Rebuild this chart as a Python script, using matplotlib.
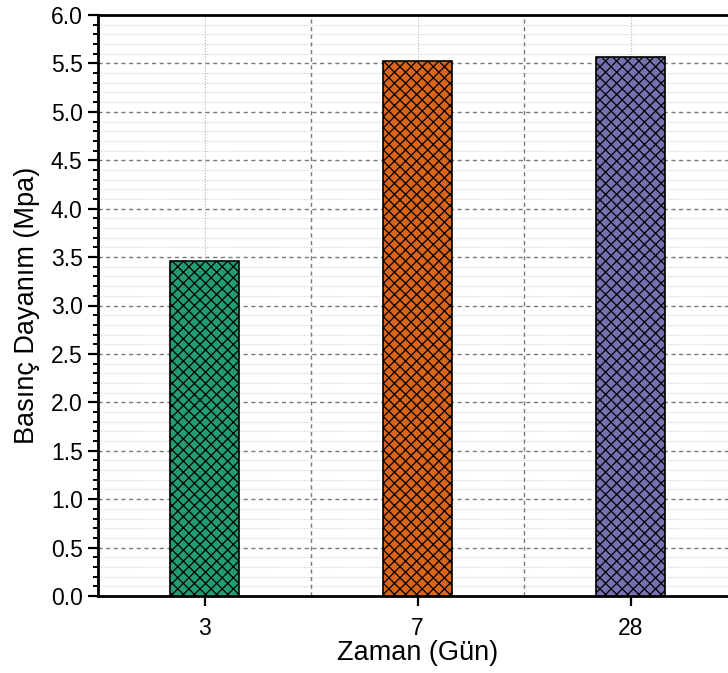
import matplotlib.pyplot as plt
import numpy as np
from matplotlib.ticker import MultipleLocator

plt.rcParams['font.family'] = ['Liberation Sans', 'DejaVu Sans']
plt.rcParams['hatch.linewidth'] = 0.9
plt.rcParams['hatch.color'] = 'black'

days = ["3", "7", "28"]
strength = [3.46, 5.52, 5.57]
colors = ["#239c76", "#d9651b", "#7672b2"]

fig = plt.figure(figsize=(7.28, 6.73), dpi=100)
# axes runs past the right edge, like the cropped original
ax = fig.add_axes([98 / 728, 77 / 673, 639 / 728, 581 / 673])

x = np.arange(len(days))
ax.bar(x, strength, width=0.32, color=colors, edgecolor='black',
       linewidth=1.2, hatch='xxx', zorder=3)

ax.set_xlim(-0.5, len(days) - 0.5)
ax.set_ylim(0, 6)
ax.set_xticks(x)
ax.set_xticklabels(days)
ax.yaxis.set_major_locator(MultipleLocator(0.5))
ax.yaxis.set_minor_locator(MultipleLocator(0.1))
ax.yaxis.set_major_formatter(plt.FormatStrFormatter('%.1f'))

# grid
for v in np.arange(0.1, 6.0, 0.1):
    if abs(v * 2 - round(v * 2)) > 1e-6:
        ax.axhline(v, color='#cfcfcf', lw=0.8, ls=(0, (1, 1.5)), zorder=0)
for v in np.arange(0.5, 6.0, 0.5):
    ax.axhline(v, color='#7a7a7a', lw=1.0, ls=(0, (3, 2.5)), zorder=1)
for v in [0.5, 1.5]:
    ax.axvline(v, color='#7a7a7a', lw=1.0, ls=(0, (3, 2.5)), zorder=1)
for v in x:
    ax.axvline(v, color='#b0b0b0', lw=0.8, ls=(0, (1, 1.5)), zorder=0)

for side in ['left', 'bottom', 'top', 'right']:
    ax.spines[side].set_linewidth(2.0)

ax.tick_params(axis='both', which='major', direction='out', length=7,
               width=1.6, labelsize=16.5, pad=4)
ax.tick_params(axis='y', which='minor', direction='out', length=3.6, width=1.4)
ax.tick_params(axis='x', which='minor', length=0)
ax.tick_params(axis='x', which='major', pad=8)

ax.set_xlabel("Zaman (Gün)", fontsize=19.5, labelpad=0)
ax.set_ylabel("Basınç Dayanım (Mpa)", fontsize=19.5, labelpad=8)

fig.savefig("out.png", dpi=100)
